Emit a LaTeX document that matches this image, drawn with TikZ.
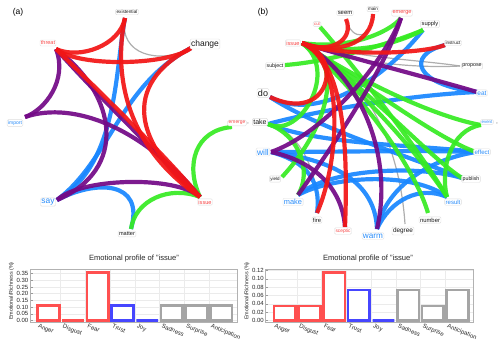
\documentclass[tikz,border=0pt]{standalone}
\usepackage{fontspec}
\setmainfont{Liberation Sans}
\usetikzlibrary{calc}
\definecolor{cR}{RGB}{242,22,22}
\definecolor{cP}{RGB}{115,10,135}
\definecolor{cB}{RGB}{25,135,255}
\definecolor{cG}{RGB}{55,235,35}
\definecolor{cK}{RGB}{165,165,165}
\definecolor{tR}{RGB}{248,70,70}
\definecolor{tB}{RGB}{40,140,250}
\definecolor{tK}{RGB}{25,25,25}
\definecolor{bR}{RGB}{255,80,80}
\definecolor{bB}{RGB}{70,70,255}
\definecolor{bK}{RGB}{165,165,165}
\newcommand\fz[1]{\fontsize{#1pt}{#1pt}\selectfont}
\begin{document}
\begin{tikzpicture}[x=1pt,y=-1pt,
  edge/.style={line width=4.2pt, opacity=0.93},
  edR/.style={edge, draw=cR},
  edP/.style={edge, draw=cP},
  edB/.style={edge, draw=cB},
  edG/.style={edge, draw=cG},
  edK/.style={line width=1.2pt, draw=cK, opacity=0.9},
  lbl/.style={fill=white, draw=black!13, rounded corners=1.2pt, inner sep=1pt, text=tK},
  lR/.style={lbl, text=tR},
  lB/.style={lbl, text=tB},
  frame/.style={draw=black!30, line width=0.6pt},
  grid/.style={draw=black!8, line width=0.5pt},
  bar/.style={line width=2.6pt, fill=white},
  tl/.style={anchor=east, font=\fz{6}, text=black!85, inner sep=0.5pt},
  xl/.style={anchor=north west, rotate=-22, font=\fz{6}, text=black!85, inner sep=0.5pt},
  ttl/.style={font=\fz{7.6}, text=black!85},
  yl/.style={rotate=90, font=\fz{5.4}, text=black!85},
  pl/.style={font=\fz{8.5}, text=black}
]
\useasboundingbox (0,0) rectangle (500,343);

% ================= panel (a) network =================
\coordinate (a-ex) at (125,18);
\coordinate (a-ch) at (191,48);
\coordinate (a-th) at (56,49);
\coordinate (a-im) at (25,117);
\coordinate (a-em) at (232,127);
\coordinate (a-sa) at (57,200);
\coordinate (a-is) at (200,197);
\coordinate (a-ma) at (131,229);

\draw[edK] (a-ex) .. controls (118,55) and (160,65) .. (a-ch);
\draw[edB] (a-ex) .. controls (115,70) and (118,165) .. (a-sa);
\draw[edB] (a-ch) .. controls (120,85) and (110,160) .. (a-sa);
\draw[edB] (a-sa) .. controls (95,180) and (145,180) .. (a-ma);
\draw[edG] (a-is) .. controls (185,165) and (195,130) .. (a-em);
\draw[edG] (a-is) .. controls (170,185) and (135,200) .. (a-ma);
\draw[edP] (a-th) .. controls (68,80) and (45,110) .. (a-im);
\draw[edP] (a-th) .. controls (118,95) and (128,170) .. (a-sa);
\draw[edP] (a-im) .. controls (75,100) and (145,130) .. (a-is);
\draw[edP] (a-sa) .. controls (80,178) and (175,175) .. (a-is);
\draw[edP] (a-th) .. controls (100,98) and (158,154) .. (a-is);
\draw[edR] (a-ex) .. controls (120,45) and (80,60) .. (a-th);
\draw[edR] (a-th) .. controls (80,68) and (170,65) .. (a-ch);
\draw[edR] (a-ex) .. controls (112,80) and (130,150) .. (a-is);
\draw[edR] (a-ch) .. controls (120,85) and (135,145) .. (a-is);
\draw[edR] (a-th) .. controls (102,94) and (162,152) .. (a-is);

\node[pl] (pa) at (18,12) {(a)};
\node[lbl, font=\fz{4.7}] (n-a-ex) at (127,12) {existential};
\node[lbl, font=\fz{8.5}] (n-a-ch) at (205,44) {change};
\node[lR, font=\fz{5.5}] (n-a-th) at (48,43) {threat};
\node[lB, font=\fz{5}] (n-a-im) at (15,123) {import};
\node[lR, font=\fz{4.9}] (n-a-em) at (237,123) {emerge};
\node[font=\fz{5}, inner sep=0pt] (n-a-cm) at (248,124) {,};
\node[lB, font=\fz{8.4}] (n-a-sa) at (48,202) {say};
\node[lR, font=\fz{5.6}] (n-a-is) at (205,202) {issue};
\node[lbl, font=\fz{5.6}] (n-a-ma) at (127,234) {matter};

% ================= panel (b) network =================
\coordinate (b-se) at (346,19);
\coordinate (b-ma) at (373,14);
\coordinate (b-em) at (401,18);
\coordinate (b-cu) at (320,27);
\coordinate (b-su) at (423,30);
\coordinate (b-is) at (302,43);
\coordinate (b-in) at (445,45);
\coordinate (b-sj) at (285,65);
\coordinate (b-pr) at (460,66);
\coordinate (b-do) at (270,97);
\coordinate (b-ea) at (477,92);
\coordinate (b-ta) at (268,124);
\coordinate (b-ev) at (481,125);
\coordinate (b-wi) at (271,152);
\coordinate (b-ef) at (476,152);
\coordinate (b-yi) at (282,177);
\coordinate (b-pu) at (462,178);
\coordinate (b-mk) at (298,195);
\coordinate (b-re) at (447,197);
\coordinate (b-fi) at (317,213);
\coordinate (b-nu) at (428,213);
\coordinate (b-sc) at (345,227);
\coordinate (b-wa) at (377,229);
\coordinate (b-de) at (405,224);

% gray
\draw[edK] (b-se) .. controls (352,42) and (372,40) .. (b-ma);
\draw[edK] (b-is) .. controls (360,58) and (420,60) .. (b-pr);
\draw[edK] (b-is) .. controls (355,65) and (425,68) .. (b-pr);
\draw[edK] (b-de) .. controls (400,150) and (370,75) .. (b-is);
\draw[edK] (b-ta) .. controls (300,130) and (320,175) .. (b-fi);
% blue
\draw[edB] (b-in) .. controls (405,55) and (415,85) .. (b-ea);
\draw[edB] (b-su) .. controls (375,90) and (310,120) .. (b-do);
\draw[edB] (b-ea) .. controls (410,95) and (320,110) .. (b-ta);
\draw[edB] (b-ta) .. controls (320,145) and (420,145) .. (b-ef);
\draw[edB] (b-wi) .. controls (340,152) and (420,150) .. (b-ef);
\draw[edB] (b-do) .. controls (320,130) and (420,160) .. (b-pu);
\draw[edB] (b-mk) .. controls (330,168) and (420,165) .. (b-pu);
\draw[edB] (b-mk) .. controls (335,175) and (415,172) .. (b-re);
\draw[edB] (b-wa) .. controls (385,190) and (425,160) .. (b-ef);
\draw[edB] (b-wa) .. controls (390,200) and (420,185) .. (b-re);
\draw[edB] (b-wa) .. controls (375,175) and (320,158) .. (b-wi);
\draw[edB] (b-fi) .. controls (322,175) and (300,160) .. (b-wi);
% green
\draw[edG] (b-cu) .. controls (345,55) and (420,150) .. (b-re);
\draw[edG] (b-sj) .. controls (330,62) and (395,42) .. (b-su);
\draw[edG] (b-is) .. controls (350,50) and (390,32) .. (b-em);
\draw[edG] (b-is) .. controls (355,58) and (400,42) .. (b-su);
\draw[edG] (b-is) .. controls (365,85) and (440,118) .. (b-ev);
\draw[edG] (b-is) .. controls (365,85) and (440,140) .. (b-ef);
\draw[edG] (b-is) .. controls (365,85) and (430,158) .. (b-pu);
\draw[edG] (b-is) .. controls (362,88) and (425,162) .. (b-re);
\draw[edG] (b-is) .. controls (360,90) and (415,168) .. (b-nu);
\draw[edG] (b-ev) .. controls (450,130) and (440,170) .. (b-re);
\draw[edG] (b-yi) .. controls (330,125) and (345,60) .. (b-is);
\draw[edG] (b-ta) .. controls (300,140) and (340,70) .. (b-is);
\draw[edG] (b-ta) .. controls (300,135) and (312,172) .. (b-mk);
% purple
\draw[edP] (b-is) .. controls (340,55) and (430,78) .. (b-ea);
\draw[edP] (b-em) .. controls (385,70) and (330,150) .. (b-mk);
\draw[edP] (b-em) .. controls (380,70) and (320,135) .. (b-wi);
\draw[edP] (b-wi) .. controls (310,160) and (342,185) .. (b-sc);
\draw[edP] (b-wa) .. controls (395,150) and (355,70) .. (b-is);
% red
\draw[edR] (b-se) .. controls (355,40) and (330,55) .. (b-is);
\draw[edR] (b-ma) .. controls (372,45) and (335,55) .. (b-is);
\draw[edR] (b-is) .. controls (330,56) and (420,55) .. (b-in);
\draw[edR] (b-do) .. controls (330,125) and (345,55) .. (b-is);
\draw[edR] (b-is) .. controls (345,60) and (340,160) .. (b-fi);
\draw[edR] (b-is) .. controls (345,60) and (348,150) .. (b-sc);

\node[pl] (pb) at (263,12) {(b)};
\node[lbl, font=\fz{5.9}] (n-b-se) at (345,13) {seem};
\node[lbl, font=\fz{4.6}] (n-b-ma) at (373,9) {main};
\node[lR, font=\fz{5.6}] (n-b-em) at (402,13) {emerge};
\node[lR, font=\fz{4.3}] (n-b-cu) at (317,24) {cut};
\node[lbl, font=\fz{5.8}] (n-b-su) at (430,24) {supply};
\node[lR, font=\fz{5.7}] (n-b-is) at (293,43) {issue};
\node[lbl, font=\fz{4.65}] (n-b-in) at (453,43) {instruct};
\node[lbl, font=\fz{5.3}] (n-b-sj) at (275,66) {subject};
\node[lbl, font=\fz{5.35}] (n-b-pr) at (472,66) {propose};
\node[lbl, font=\fz{9}] (n-b-do) at (263,93) {do};
\node[lB, font=\fz{6.5}] (n-b-ea) at (482,93) {eat};
\node[lbl, font=\fz{7}] (n-b-ta) at (260,122) {take};
\node[lB, font=\fz{4.4}] (n-b-ev) at (487,122) {event};
\node[font=\fz{5}, inner sep=0pt] (n-b-cm) at (497,124) {,};
\node[lB, font=\fz{8.4}] (n-b-wi) at (263,152) {will};
\node[lB, font=\fz{6.1}] (n-b-ef) at (482,152) {effect};
\node[lbl, font=\fz{4.5}] (n-b-yi) at (275,179) {yield};
\node[lbl, font=\fz{5.3}] (n-b-pu) at (471,179) {publish};
\node[lB, font=\fz{7.4}] (n-b-mk) at (293,202) {make};
\node[lB, font=\fz{6}] (n-b-re) at (453,202) {result};
\node[lbl, font=\fz{5.8}] (n-b-fi) at (317,220) {fire};
\node[lbl, font=\fz{5.9}] (n-b-nu) at (430,220) {number};
\node[lR, font=\fz{4.8}] (n-b-sc) at (343,231) {sceptic};
\node[lB, font=\fz{8.2}] (n-b-wa) at (373,236) {warm};
\node[lbl, font=\fz{6.4}] (n-b-de) at (403,231) {degree};

% ================= chart (a) =================
\node[ttl] (ta) at (134,259) {Emotional profile of "issue"};
\foreach \i in {1,...,7}{\draw[grid] ({36+\i*24.7},269) -- ({36+\i*24.7},322);}
\foreach \i/\t in {0/0.00,1/0.05,2/0.10,3/0.15,4/0.20,5/0.25,6/0.30,7/0.35}{
  \draw[grid] (30,{320.5-\i*6.71}) -- (237,{320.5-\i*6.71});
  \draw[draw=black!40, line width=0.5pt] (30,{320.5-\i*6.71}) -- (32.5,{320.5-\i*6.71});
  \node[tl] (tka\i) at (29,{320.5-\i*6.71}) {\t};
}
\draw[frame] (30,269) rectangle (237,322);
\foreach \i/\h/\c in {0/305.5/bR,1/320.5/bR,2/272.5/bR,3/305.5/bB,4/320.5/bB,5/305.5/bK,6/305.5/bK,7/305.5/bK}{
  \draw[bar, draw=\c] ({36+\i*24.7+1.5},320.5) rectangle ({36+(\i+1)*24.7-1.5},\h);
}
\foreach \i/\t in {0/Anger,1/Disgust,2/Fear,3/Trust,4/Joy,5/Sadness,6/Surprise,7/Anticipation}{
  \node[xl] (xla\i) at ({36+\i*24.7+3},323) {\t};
}
\node[yl] (yla) at (11.5,291) {Emotional/Richness (\%)};
\node[yl] (ylb) at (247,291) {Emotional/Richness (\%)};

% ================= chart (b) =================
\node[ttl] (tb) at (368,259) {Emotional profile of "issue"};
\foreach \i in {1,...,7}{\draw[grid] ({272.3+\i*24.7},269) -- ({272.3+\i*24.7},322);}
\foreach \i/\t in {0/0.00,1/0.02,2/0.04,3/0.06,4/0.08,5/0.10,6/0.12}{
  \draw[grid] (265.7,{320.5-\i*8.35}) -- (473.3,{320.5-\i*8.35});
  \draw[draw=black!40, line width=0.5pt] (265.7,{320.5-\i*8.35}) -- (268.2,{320.5-\i*8.35});
  \node[tl] (tkb\i) at (264.5,{320.5-\i*8.35}) {\t};
}
\draw[frame] (265.7,269) rectangle (473.3,322);
\foreach \i/\h/\c in {0/305.8/bR,1/305.8/bR,2/272.5/bR,3/289.8/bB,4/320.5/bB,5/289.8/bK,6/305.8/bK,7/289.8/bK}{
  \draw[bar, draw=\c] ({272.3+\i*24.7+1.5},320.5) rectangle ({272.3+(\i+1)*24.7-1.5},\h);
}
\foreach \i/\t in {0/Anger,1/Disgust,2/Fear,3/Trust,4/Joy,5/Sadness,6/Surprise,7/Anticipation}{
  \node[xl] (xlb\i) at ({272.3+\i*24.7+3},323) {\t};
}
\end{tikzpicture}
\end{document}
